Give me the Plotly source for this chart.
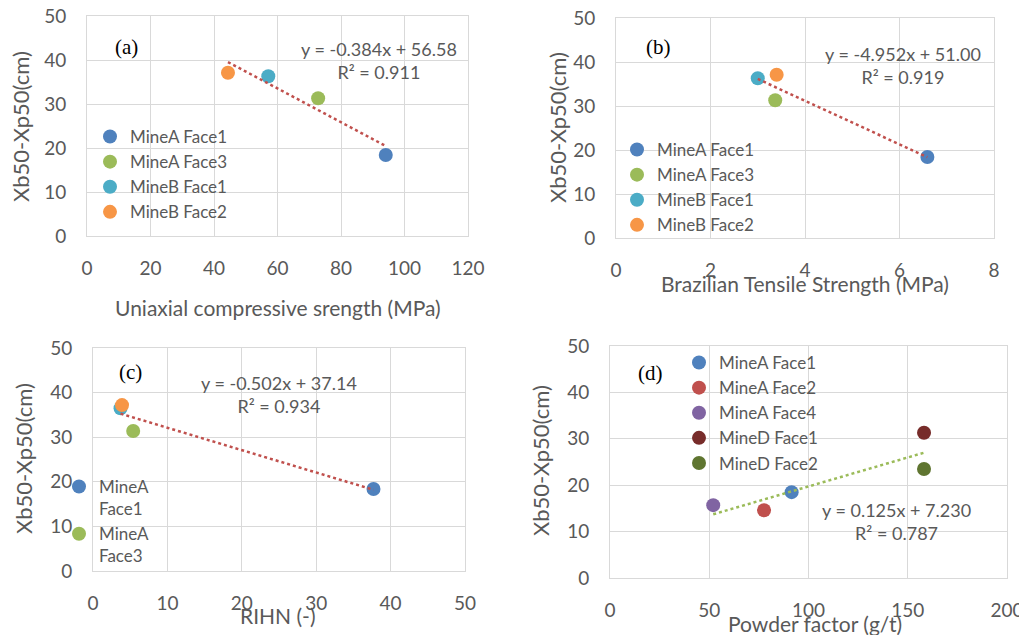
import plotly.graph_objects as go

# ---------------- data ----------------
series_abc = ["MineA Face1", "MineA Face3", "MineB Face1", "MineB Face2"]
colors_abc = ["#4F81BD", "#9BBB59", "#4BACC6", "#F79646"]
y_abc = [18.4, 31.3, 36.3, 37.1]

x_ucs = [94.1, 72.8, 57.1, 44.4]      # (a) Uniaxial compressive strength (MPa)
x_bts = [6.59, 3.37, 3.00, 3.40]      # (b) Brazilian tensile strength (MPa)
x_rihn = [37.7, 5.4, 3.7, 3.9]        # (c) RIHN (-)
y_rihn = [18.4, 31.4, 36.5, 37.2]

series_d = ["MineA Face1", "MineA Face2", "MineA Face4", "MineD Face1", "MineD Face2"]
colors_d = ["#4F81BD", "#C0504D", "#8064A2", "#772C2A", "#5F7530"]
x_pf = [91.5, 77.6, 52.0, 158.2, 158.2]   # (d) Powder factor (g/t)
y_pf = [18.5, 14.6, 15.7, 31.3, 23.5]

# trendline coefficients (as printed)
slopes = [-0.384, -4.952, -0.502, 0.125]
intercepts = [56.58, 51.00, 37.14, 7.230]
eq_text = ["y = -0.384x + 56.58<br>R² = 0.911",
           "y = -4.952x + 51.00<br>R² = 0.919",
           "y = -0.502x + 37.14<br>R² = 0.934",
           "y = 0.125x + 7.230<br>R² = 0.787"]
panel_labels = ["(a)", "(b)", "(c)", "(d)"]
x_titles = ["Uniaxial compressive srength (MPa)", "Brazilian Tensile Strength (MPa)",
            "RIHN (-)", "Powder factor (g/t)"]
y_title = "Xb50-Xp50(cm)"
x_ranges = [[0, 120], [0, 8], [0, 50], [0, 200]]
x_dticks = [20, 2, 10, 50]

# page body has an 8px margin: figure is drawn 8px right/down
OFF = 8
W, H = 1027 - OFF, 635 - OFF
GRAY = "#595959"
GRID = "#D9D9D9"
FONT = "Lato"

# panel pixel boxes in window coords: left, right, top, bottom
boxes = [(87, 468, 16, 236), (616, 994, 18, 238), (93, 465, 348, 571), (610, 1007, 346, 578)]

fig = go.Figure()

def px(xp):
    return (xp - OFF) / W

def py(yp):
    return 1 - (yp - OFF) / H

panels = [
    (x_ucs, y_abc, series_abc, colors_abc, "legend"),
    (x_bts, y_abc, series_abc, colors_abc, "legend2"),
    (x_rihn, y_rihn, series_abc, colors_abc, "legend3"),
    (x_pf, y_pf, series_d, colors_d, "legend4"),
]

for i, (xs, ys, names, cols, leg) in enumerate(panels):
    ax = "" if i == 0 else str(i + 1)
    for j, (xv, yv, nm, c) in enumerate(zip(xs, ys, names, cols)):
        show = True
        label = nm
        if i == 2:
            show = j < 2
            label = nm.replace(" ", "<br>")
        fig.add_trace(go.Scatter(
            x=[xv], y=[yv], mode="markers", name=label,
            marker=dict(size=14, color=c),
            xaxis="x" + ax, yaxis="y" + ax, legend=leg, showlegend=show))
    x0, x1 = min(xs), max(xs)
    tcol = "#9BBB59" if i == 3 else "#C0504D"
    fig.add_trace(go.Scatter(
        x=[x0, x1], y=[slopes[i] * x0 + intercepts[i], slopes[i] * x1 + intercepts[i]],
        mode="lines", line=dict(color=tcol, width=2.5, dash="dot"),
        xaxis="x" + ax, yaxis="y" + ax, showlegend=False, hoverinfo="skip"))

layout = dict(
    width=W, height=H, margin=dict(l=0, r=0, t=0, b=0, autoexpand=False),
    paper_bgcolor="white", plot_bgcolor="white",
    font=dict(family=FONT, color=GRAY, size=17),
    showlegend=True,
)

annotations = []
for i in range(4):
    ax = "" if i == 0 else str(i + 1)
    l, r, t, b = boxes[i]
    layout["xaxis" + ax] = dict(
        domain=[px(l), px(r)], range=x_ranges[i], dtick=x_dticks[i], tick0=0,
        showgrid=True, gridcolor=GRID, gridwidth=1, zeroline=False,
        showline=True, linecolor=GRID, linewidth=1, mirror=True, automargin=False,
        ticks="", ticklabelstandoff=15, ticklabeloverflow="allow",
        tickfont=dict(size=19, color=GRAY),
        anchor="y" + ax, fixedrange=True)
    layout["yaxis" + ax] = dict(
        domain=[py(b), py(t)], range=[0, 50], dtick=10, tick0=0,
        showgrid=True, gridcolor=GRID, gridwidth=1, zeroline=False,
        showline=True, linecolor=GRID, linewidth=1, mirror=True, automargin=False,
        ticks="", ticklabelstandoff=16, ticklabeloverflow="allow",
        tickfont=dict(size=19, color=GRAY),
        anchor="x" + ax, fixedrange=True)

# axis titles
xt_pos = [(277.5, 307), (805, 283), (278, 615), (815, 623)]
yt_pos = [(20, 127), (557, 128), (23, 459), (540, 461)]
for i in range(4):
    annotations.append(dict(xref="paper", yref="paper", x=px(xt_pos[i][0]), y=py(xt_pos[i][1]),
                            text=x_titles[i], showarrow=False, xanchor="center", yanchor="middle",
                            font=dict(size=21, color=GRAY, family=FONT)))
    annotations.append(dict(xref="paper", yref="paper", x=px(yt_pos[i][0]), y=py(yt_pos[i][1]),
                            text=y_title, showarrow=False, xanchor="center", yanchor="middle",
                            textangle=-90, font=dict(size=22, color=GRAY, family=FONT)))

# equations
eq_pos = [(379, 60), (903, 65), (279, 394), (896, 521)]
for i in range(4):
    annotations.append(dict(xref="paper", yref="paper", x=px(eq_pos[i][0]), y=py(eq_pos[i][1]),
                            text=eq_text[i], showarrow=False, xanchor="center", yanchor="middle",
                            align="center", font=dict(size=18, color=GRAY, family=FONT)))

# panel labels
lab_pos = [(126, 47), (658, 47), (130, 372), (650, 373)]
for i in range(4):
    annotations.append(dict(xref="paper", yref="paper", x=px(lab_pos[i][0]), y=py(lab_pos[i][1]),
                            text=panel_labels[i], showarrow=False, xanchor="center", yanchor="middle",
                            font=dict(size=21, color="black", family="Liberation Serif")))

layout["annotations"] = annotations

leg_common = dict(bgcolor="rgba(0,0,0,0)", borderwidth=0, xanchor="left", yanchor="top",
                  font=dict(size=17, color=GRAY, family=FONT), itemsizing="trace",
                  tracegroupgap=0)
layout["legend"] = dict(leg_common, x=px(110 - 20), y=py(136 - 17))
layout["legend2"] = dict(leg_common, x=px(637 - 20), y=py(149 - 17))
layout["legend3"] = dict(leg_common, x=px(79 - 20), y=py(486 - 17), valign="top")
layout["legend4"] = dict(leg_common, x=px(699 - 20), y=py(363 - 18))

fig.update_layout(**layout)
fig.write_html("out.html")
